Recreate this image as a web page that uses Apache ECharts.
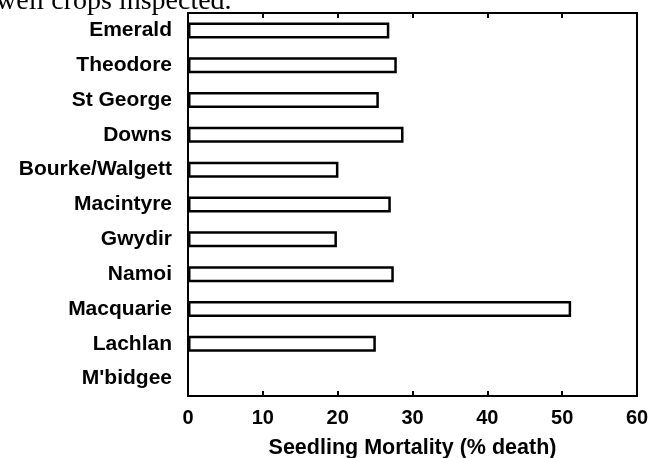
<!DOCTYPE html>
<html>
<head>
<meta charset="utf-8">
<script src="https://cdn.jsdelivr.net/npm/echarts@6/dist/echarts.min.js"></script>
<style>
html,body{margin:0;padding:0;background:#fff;}
#chart{width:650px;height:458px;}
</style>
</head>
<body>
<div id="chart"></div>
<script>
const categories = ["Emerald","Theodore","St George","Downs","Bourke/Walgett","Macintyre","Gwydir","Namoi","Macquarie","Lachlan","M'bidgee"];
const mortality = [26.9, 27.9, 25.5, 28.8, 20.1, 27.1, 19.9, 27.5, 51.2, 25.1, null];
const xTicks = [0, 10, 20, 30, 40, 50, 60];
const axisTitle = "Seedling Mortality (% death)";
const topCaption = "well crops inspected.";

const chart = echarts.init(document.getElementById('chart'), null, {renderer: 'canvas'});
const bold = 'Liberation Sans, Arial, Helvetica, sans-serif';
chart.setOption({
  animation: false,
  backgroundColor: '#fff',
  grid: {left: 188, right: 13, top: 13, bottom: 62, show: true, borderColor: '#000', borderWidth: 2, containLabel: false, outerBoundsMode: 'none'},
  graphic: [{
    type: 'text', left: -4, top: -12,
    style: {text: topCaption, font: '28px "Liberation Serif", "Times New Roman", serif', fill: '#000'}
  }],
  xAxis: [{
    type: 'value', min: xTicks[0], max: xTicks[xTicks.length - 1], interval: 10, position: 'bottom',
    axisLine: {show: true, lineStyle: {color: '#000', width: 2}},
    axisTick: {show: true, inside: true, length: 5, lineStyle: {color: '#000', width: 2}},
    splitLine: {show: false},
    axisLabel: {color: '#000', fontFamily: bold, fontWeight: 'bold', fontSize: 20, margin: 12},
    name: axisTitle, nameLocation: 'middle', nameGap: 41,
    nameTextStyle: {color: '#000', fontFamily: bold, fontWeight: 'bold', fontSize: 21.5}
  }, {
    type: 'value', min: xTicks[0], max: xTicks[xTicks.length - 1], interval: 10, position: 'top',
    axisLine: {show: true, lineStyle: {color: '#000', width: 2}},
    axisTick: {show: true, inside: true, length: 5, lineStyle: {color: '#000', width: 2}},
    splitLine: {show: false},
    axisLabel: {show: false}
  }],
  yAxis: {
    type: 'category', data: categories, inverse: true,
    axisLine: {show: true, lineStyle: {color: '#000', width: 2}},
    axisTick: {show: false},
    axisLabel: {color: '#000', fontFamily: bold, fontWeight: 'bold', fontSize: 21, margin: 16}
  },
  series: [{
    type: 'bar', data: mortality, barWidth: 16, xAxisIndex: 0,
    itemStyle: {color: '#fff', borderColor: '#000', borderWidth: 2.5}
  }]
});
</script>
</body>
</html>
